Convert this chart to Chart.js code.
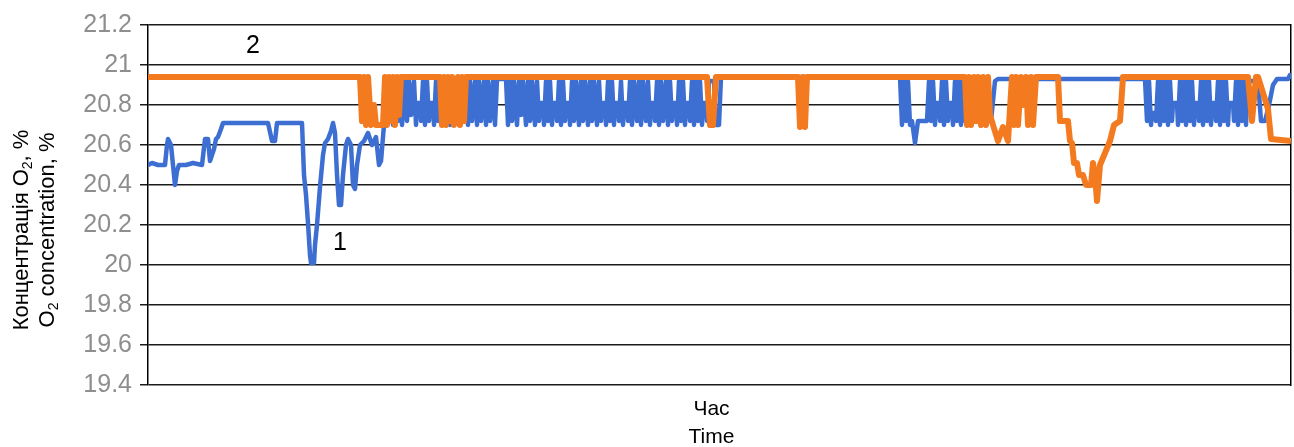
<!DOCTYPE html>
<html>
<head>
<meta charset="utf-8">
<script src="https://cdn.jsdelivr.net/npm/chart.js@4.4.1/dist/chart.umd.min.js"></script>
<style>
  html, body { margin: 0; padding: 0; background: #fff; }
  canvas { display: block; }
</style>
</head>
<body>
<canvas id="o2Chart" width="1294" height="447"></canvas>
<script>
// Час (відлік) та концентрація O2, %
// крива 1 (синя): [час, значення]
const blueSeries = [
  [0,20.5],[4,20.51],[10,20.5],[17,20.5],[19,20.6],[20,20.63],[23,20.6],[25,20.5],[27,20.4],[29,20.47],[31,20.5],
  [38,20.5],[45,20.51],[54,20.5],[57,20.63],[60,20.63],[62,20.52],[66,20.58],[68,20.63],[70,20.64],[73,20.68],[75,20.71],
  [120,20.71],[124,20.62],[127,20.62],[129,20.71],[154,20.71],[156,20.45],[158,20.35],[160,20.21],[162,20.05],[163,20.01],
  [166,20.01],[167,20.1],[169,20.2],[172,20.39],[175,20.55],[177,20.61],[180,20.63],[183,20.67],[185,20.71],[187,20.66],
  [189,20.45],[191,20.3],[193,20.3],[195,20.45],[198,20.6],[200,20.63],[203,20.6],[205,20.4],[207,20.38],[209,20.5],
  [212,20.6],[216,20.62],[220,20.66],[224,20.6],[228,20.64],[231,20.5],[233,20.52],[236,20.7],[239,20.92],
  [241,20.72],[243,20.92],[245,20.7],[248,20.92],[250,20.72],[252,20.92],[254,20.7],[257,20.92],[259,20.72],[261,20.92],
  [263,20.75],[266,20.92],[268,20.7],[269,20.81],[272,20.81],[273,20.72],[275,20.92],[277,20.7],[279,20.92],
  [281,20.72],[282,20.81],[285,20.81],[286,20.7],[288,20.92],[290,20.72],[292,20.92],[294,20.7],[295,20.81],
  [297,20.81],[298,20.72],[300,20.92],[302,20.7],[304,20.92],[306,20.72],[309,20.92],[311,20.7],[313,20.92],
  [315,20.72],[318,20.92],[320,20.7],[322,20.92],[324,20.72],[327,20.92],[329,20.7],[331,20.92],[333,20.72],[336,20.92],
  [338,20.7],[340,20.92],[342,20.72],[345,20.92],[347,20.7],[349,20.93],[358,20.93],[360,20.7],[362,20.92],[364,20.72],
  [366,20.92],[369,20.7],[371,20.92],[373,20.75],[375,20.92],[378,20.7],[380,20.92],[382,20.72],[384,20.92],[387,20.7],
  [389,20.92],[391,20.72],[392,20.81],[395,20.81],[396,20.7],[398,20.92],[400,20.72],[402,20.92],[404,20.7],[405,20.81],
  [408,20.81],[409,20.72],[411,20.92],[413,20.7],[415,20.92],[417,20.72],[418,20.81],[421,20.81],[422,20.7],[424,20.92],
  [426,20.72],[428,20.92],[431,20.7],[433,20.92],[435,20.72],[437,20.92],[440,20.7],[442,20.92],[444,20.72],[446,20.92],
  [449,20.7],[451,20.92],[453,20.72],[454,20.81],[457,20.81],[458,20.7],[460,20.92],[462,20.72],[464,20.92],[466,20.7],
  [467,20.81],[470,20.81],[471,20.72],[473,20.92],[475,20.7],[476,20.81],[479,20.81],[480,20.72],[482,20.92],[484,20.7],
  [486,20.92],[489,20.72],[491,20.92],[493,20.7],[495,20.92],[498,20.72],[500,20.92],[502,20.7],[503,20.81],[506,20.81],
  [507,20.72],[509,20.92],[511,20.7],[513,20.92],[515,20.72],[518,20.92],[520,20.7],[522,20.92],[524,20.72],[525,20.81],
  [528,20.81],[529,20.7],[531,20.92],[533,20.72],[535,20.92],[537,20.7],[538,20.81],[541,20.81],[542,20.72],[544,20.92],
  [546,20.7],[548,20.92],[550,20.72],[552,20.92],[554,20.7],[555,20.81],[558,20.81],[559,20.72],[561,20.92],[566,20.92],
  [568,20.7],[571,20.7],[573,20.94],[752,20.94],
  [754,20.7],[756,20.92],[758,20.72],[760,20.92],[762,20.7],[764,20.72],[767,20.61],[770,20.72],[779,20.72],[781,20.92],
  [783,20.72],[785,20.92],[787,20.7],[788,20.81],[791,20.81],[792,20.72],[794,20.92],[796,20.7],[798,20.92],[800,20.72],
  [801,20.81],[804,20.81],[805,20.7],[807,20.92],[809,20.72],[811,20.92],[813,20.7],[815,20.92],[817,20.72],[843,20.72],
  [847,20.92],[850,20.93],
  [997,20.93],[999,20.72],[1001,20.92],[1003,20.7],[1004,20.76],[1007,20.76],[1008,20.72],[1010,20.92],[1012,20.7],
  [1014,20.92],[1016,20.72],[1018,20.92],[1020,20.7],[1022,20.92],[1024,20.72],[1025,20.81],[1029,20.81],[1030,20.7],
  [1032,20.92],[1034,20.72],[1036,20.92],[1038,20.7],[1040,20.92],[1042,20.72],[1044,20.92],[1046,20.7],[1047,20.81],
  [1050,20.81],[1051,20.72],[1053,20.92],[1055,20.7],[1057,20.92],[1059,20.72],[1061,20.92],[1063,20.7],[1064,20.81],
  [1067,20.81],[1068,20.72],[1070,20.92],[1072,20.7],[1074,20.92],[1076,20.72],[1078,20.92],[1080,20.7],[1081,20.81],
  [1085,20.81],[1086,20.72],[1088,20.92],[1090,20.7],[1092,20.92],[1094,20.72],[1096,20.92],[1098,20.7],[1100,20.92],
  [1110,20.92],[1113,20.72],[1117,20.72],[1121,20.8],[1125,20.9],[1129,20.93],[1140,20.93],[1142,20.95],[1143,20.93]
];

// крива 2 (помаранчева): [час, значення]
const orangeSeries = [
  [0,20.94],[212,20.94],[214,20.72],[216,20.94],[218,20.7],[220,20.94],[223,20.7],[226,20.8],[228,20.7],[235,20.7],
  [237,20.94],[239,20.7],[241,20.94],[243,20.72],[245,20.94],[247,20.7],[249,20.94],[251,20.75],[253,20.94],
  [292,20.94],[294,20.7],[296,20.94],[298,20.7],[300,20.94],[302,20.72],[304,20.94],[306,20.7],[308,20.8],[310,20.94],
  [312,20.7],[314,20.94],[316,20.72],[318,20.94],[559,20.94],[562,20.7],[565,20.7],[568,20.94],
  [650,20.94],[652,20.69],[655,20.94],[657,20.69],[659,20.94],[817,20.94],[819,20.7],[821,20.94],[823,20.7],[826,20.94],
  [828,20.72],[830,20.94],[833,20.7],[835,20.94],[838,20.7],[840,20.94],[842,20.75],[845,20.7],[850,20.62],[855,20.69],
  [860,20.62],[864,20.94],[866,20.7],[868,20.94],[870,20.7],[873,20.94],[875,20.8],[878,20.94],[880,20.7],[883,20.94],
  [885,20.7],[888,20.94],[910,20.94],[912,20.72],[920,20.72],[922,20.62],[924,20.61],[926,20.51],[929,20.51],
  [931,20.45],[935,20.45],[938,20.4],[943,20.4],[945,20.51],[947,20.45],[949,20.32],[952,20.5],[957,20.56],
  [962,20.62],[966,20.7],[972,20.72],[975,20.94],[1100,20.94],[1104,20.72],[1108,20.94],[1110,20.94],[1120,20.78],
  [1123,20.63],[1143,20.62]
];

const timeRange = [0, 1143];
const yRange = [19.4, 21.2];
const yTickLabels = ['19.4', '19.6', '19.8', '20', '20.2', '20.4', '20.6', '20.8', '21', '21.2'];

// підписи кривих: [текст, час, значення]
const curveLabels = [['1', 192, 20.11], ['2', 105, 21.095]];

const colors = {
    blue: '#3d6fd2',
    orange: '#f47a1f',
    grid: '#1c1c1c',
    tick: '#8e8e8e'
};

const fontFamily = '"Liberation Sans", Arial, sans-serif';
const toPoints = arr => arr.map(p => ({ x: p[0], y: p[1] }));

// текст з нижнім індексом (O₂)
function drawParts(ctx, parts, size) {
    const small = Math.round(size * 0.62);
    let total = 0;
    parts.forEach(p => {
        ctx.font = (p[1] ? small : size) + 'px ' + fontFamily;
        total += ctx.measureText(p[0]).width;
    });
    let x = -total / 2;
    parts.forEach(p => {
        ctx.font = (p[1] ? small : size) + 'px ' + fontFamily;
        ctx.fillText(p[0], x, p[1] ? 6 : 0);
        x += ctx.measureText(p[0]).width;
    });
}

const textPlugin = {
    id: 'textPlugin',
    afterDraw(chart) {
        const { ctx, scales } = chart;
        ctx.save();
        ctx.fillStyle = '#000';
        ctx.textBaseline = 'middle';
        ctx.textAlign = 'left';

        // номери кривих
        ctx.font = '25px ' + fontFamily;
        curveLabels.forEach(l => {
            const px = scales.x.getPixelForValue(l[1]);
            const py = scales.y.getPixelForValue(l[2]);
            const w = ctx.measureText(l[0]).width;
            ctx.fillText(l[0], px - w / 2, py);
        });

        // назва осі Y (два рядки)
        const midY = 230;
        ctx.save();
        ctx.translate(22, midY);
        ctx.rotate(-Math.PI / 2);
        drawParts(ctx, [['Концентрація O', false], ['2', true], [', %', false]], 22);
        ctx.restore();
        ctx.save();
        ctx.translate(48, midY);
        ctx.rotate(-Math.PI / 2);
        drawParts(ctx, [['O', false], ['2', true], [' concentration, %', false]], 22);
        ctx.restore();

        // назва осі X
        ctx.textAlign = 'center';
        ctx.font = '21px ' + fontFamily;
        const cx = (chart.chartArea.left + chart.chartArea.right) / 2 - 8;
        ctx.fillText('Час', cx, 409);
        ctx.fillText('Time', cx, 437);
        ctx.restore();
    }
};

const ctx = document.getElementById('o2Chart').getContext('2d');
new Chart(ctx, {
    type: 'line',
    data: {
        datasets: [
            {
                label: '1',
                data: toPoints(blueSeries),
                borderColor: colors.blue,
                borderWidth: 4.5,
                pointRadius: 0,
                tension: 0,
                borderJoinStyle: 'round',
                fill: false,
                order: 2   // під помаранчевою
            },
            {
                label: '2',
                data: toPoints(orangeSeries),
                borderColor: colors.orange,
                borderWidth: 6,
                pointRadius: 0,
                tension: 0,
                borderJoinStyle: 'round',
                fill: false,
                order: 1
            }
        ]
    },
    options: {
        responsive: false,
        animation: false,
        devicePixelRatio: 1,
        layout: { padding: { top: 25, right: 0, bottom: 0, left: 0 } },
        plugins: {
            legend: { display: false },
            tooltip: { enabled: false }
        },
        scales: {
            x: {
                type: 'linear',
                min: timeRange[0],
                max: timeRange[1],
                ticks: { display: false },
                grid: { display: false, drawTicks: false },
                border: { display: false },
                afterFit: s => { s.height = 62; }
            },
            y: {
                min: yRange[0],
                max: yRange[1],
                ticks: {
                    stepSize: 0.2,
                    color: colors.tick,
                    padding: 8,
                    font: { family: fontFamily, size: 25 },
                    callback: (v, i) => yTickLabels[i]
                },
                grid: { color: colors.grid, lineWidth: 1.5, tickLength: 8 },
                border: { color: '#000', width: 1.5 },
                afterFit: s => { s.width = 148; }
            },
            y2: {
                position: 'right',
                min: yRange[0],
                max: yRange[1],
                ticks: { display: false },
                grid: { display: false, drawTicks: false },
                border: { color: '#000', width: 1.5 },
                afterFit: s => { s.width = 3; }
            }
        }
    },
    plugins: [textPlugin]
});
</script>
</body>
</html>
